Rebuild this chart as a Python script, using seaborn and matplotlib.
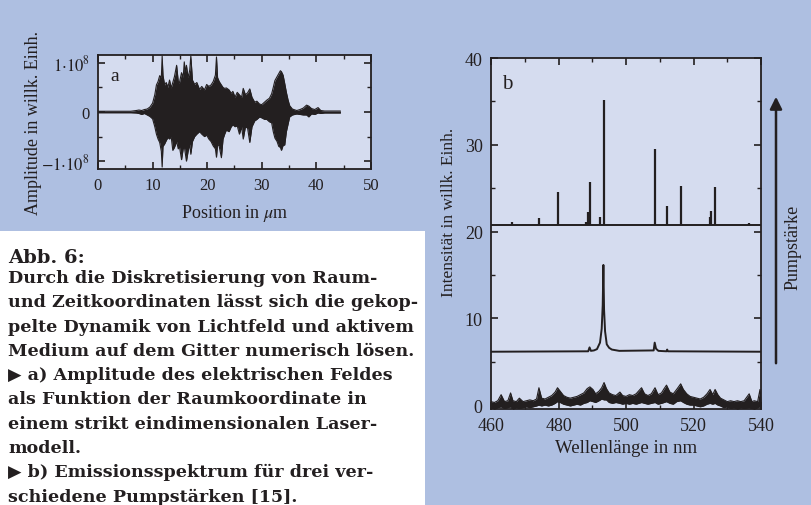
import numpy as np
import pandas as pd
import matplotlib
matplotlib.use("Agg")
import matplotlib.pyplot as plt
import seaborn as sns
from matplotlib.patches import Rectangle, FancyArrowPatch
from matplotlib.ticker import MultipleLocator

# =============================================================================
# Farben / Layout
# =============================================================================
BG = "#aebfe1"
FACE = "#d5dcef"
INK = "#231f20"
W, H = 812, 506

# =============================================================================
# Daten Teil a: Einhüllende der Feldamplitude (Einheiten 1e8)
# =============================================================================
POS_UM = [0.0, 6.0, 7.0, 7.5, 8.0, 8.5, 9.0, 9.5, 10.0, 10.4, 10.7, 11.0,
          11.3, 11.6, 11.75, 11.9, 12.2, 12.5, 12.8, 13.1, 13.4, 13.7, 14.0,
          14.4, 14.7, 14.9, 15.3, 15.6, 15.8, 16.0, 16.2, 16.5, 16.8, 17.0,
          17.3, 17.7, 18.1, 18.6, 19.0, 19.5, 19.9, 20.3, 20.7, 21.1, 21.5,
          21.7, 21.9, 22.2, 22.6, 22.9, 23.2, 23.5, 24.0, 24.4, 24.7, 25.1,
          25.5, 25.9, 26.3, 26.6, 27.0, 27.4, 27.8, 28.2, 28.7, 29.1, 29.6,
          30.0, 30.5, 30.9, 31.4, 31.8, 32.1, 32.4, 32.8, 33.1, 33.4, 33.6,
          33.9, 34.2, 34.5, 34.8, 35.1, 35.6, 36.4, 37.0, 37.6, 38.2, 38.6,
          39.1, 39.7, 40.3, 40.8, 41.5, 44.4]
AMP_TOP = [0.015, 0.015, 0.03, 0.04, 0.03, 0.05, 0.06, 0.10, 0.18, 0.35, 0.55,
           0.62, 0.74, 0.70, 1.14, 0.75, 0.55, 0.60, 0.50, 0.65, 0.49, 0.60,
           0.72, 0.95, 0.62, 0.59, 0.80, 0.70, 1.02, 0.80, 0.95, 0.70, 0.85,
           1.14, 0.65, 0.56, 0.60, 0.46, 0.52, 0.45, 0.56, 0.52, 0.55, 0.62,
           0.75, 1.12, 0.70, 0.62, 0.55, 0.50, 0.48, 0.49, 0.45, 0.38, 0.42,
           0.30, 0.40, 0.35, 0.30, 0.48, 0.35, 0.39, 0.47, 0.30, 0.20, 0.22,
           0.16, 0.15, 0.20, 0.24, 0.28, 0.37, 0.50, 0.64, 0.72, 0.78, 0.84,
           0.82, 0.75, 0.58, 0.40, 0.25, 0.13, 0.06, 0.03, 0.05, 0.08, 0.14,
           0.12, 0.07, 0.05, 0.09, 0.03, 0.02, 0.02]
AMP_BOT = [-0.015, -0.015, -0.02, -0.03, -0.05, -0.03, -0.06, -0.09, -0.14,
           -0.30, -0.45, -0.55, -0.62, -0.80, -1.12, -0.70, -0.65, -0.58,
           -0.52, -0.55, -0.50, -0.78, -0.72, -0.60, -0.75, -0.69, -0.97,
           -0.75, -0.70, -0.85, -1.00, -0.80, -0.65, -0.86, -0.60, -0.50,
           -0.45, -0.40, -0.45, -0.50, -0.47, -0.55, -0.60, -0.69, -0.75,
           -0.92, -0.65, -0.70, -0.93, -0.55, -0.45, -0.37, -0.40, -0.30,
           -0.26, -0.30, -0.28, -0.45, -0.30, -0.55, -0.30, -0.33, -0.62,
           -0.30, -0.18, -0.15, -0.10, -0.12, -0.15, -0.15, -0.20, -0.22,
           -0.40, -0.53, -0.60, -0.70, -0.72, -0.78, -0.68, -0.67, -0.40,
           -0.25, -0.10, -0.06, -0.04, -0.05, -0.06, -0.06, -0.10, -0.04,
           -0.05, -0.02, -0.03, -0.02, -0.02]

# =============================================================================
# Daten Teil b: Emissionsspektren
# =============================================================================
# hohe Pumpstärke: Basislinie + scharfe Linien
TOP_BASE = 20.8
TOP_PEAK_NM = [466.1, 474.3, 479.9, 488.0, 488.7, 489.4, 492.3, 493.4,
               508.7, 512.2, 516.4, 524.8, 525.1, 526.5, 536.4]
TOP_PEAK_I = [21.1, 21.6, 24.5, 21.1, 22.3, 25.7, 21.65, 35.2,
              29.5, 22.9, 25.3, 21.65, 22.4, 25.1, 21.0]

# mittlere Pumpstärke
MID_NM = [460.0, 488.8, 489.2, 489.6, 490.5, 491.4, 492.3, 492.8, 493.1,
          493.3, 493.5, 493.8, 494.3, 495.0, 495.8, 498.0, 508.2, 508.5,
          508.9, 509.6, 512.0, 512.2, 512.4, 540.0]
MID_I = [6.15, 6.2, 6.65, 6.25, 6.3, 6.45, 7.2, 8.8, 11.5,
         16.15, 11.0, 8.5, 7.0, 6.6, 6.4, 6.25, 6.3, 7.2,
         6.5, 6.25, 6.2, 6.4, 6.2, 6.15]

# niedrige Pumpstärke: verrauschtes Band (obere / untere Kante)
LOW_NM = [460, 461, 462, 463, 464, 465, 465.8, 466.5, 467.5, 468.4, 469.5,
          470.5, 471.5, 472.5, 473.5, 474.2, 475, 476, 477, 478, 479, 479.7,
          480.5, 481.5, 482.5, 483.5, 484.5, 485.5, 486.5, 487.5, 488.5,
          489.3, 490.2, 491, 492, 492.8, 493.5, 494.2, 495, 496, 497, 498.2,
          499, 500, 501, 502, 503, 504.6, 505.5, 506.5, 507.5, 508.6, 509.5,
          510.5, 511.3, 512, 513, 514, 515, 516.2, 517, 518, 519, 520, 521,
          522, 523, 524, 524.9, 525.7, 526.4, 527.2, 528, 529, 530, 531, 532,
          533, 534, 535, 536.5, 537.3, 538, 539, 539.7, 540]
LOW_TOP = [0.4, 0.3, 0.5, 1.2, 0.4, 0.5, 1.4, 0.5, 0.4, 0.8, 0.4,
           0.5, 0.6, 0.5, 0.7, 2.0, 0.8, 0.7, 0.9, 1.1, 1.5, 2.0,
           1.6, 1.1, 0.9, 0.8, 0.9, 1.0, 1.2, 1.4, 1.9,
           2.1, 1.8, 1.3, 1.6, 2.0, 2.6, 1.9, 1.4, 1.2, 1.1, 1.5,
           1.1, 1.0, 1.2, 1.1, 1.3, 2.0, 1.3, 1.1, 1.3, 2.0, 1.2,
           1.4, 1.9, 2.3, 1.5, 1.3, 1.8, 2.45, 1.8, 1.3, 1.0, 0.9, 0.8,
           0.7, 0.9, 1.3, 1.8, 1.2, 1.8, 1.2, 0.8, 0.6, 0.4, 0.5, 0.4,
           0.5, 0.4, 0.5, 1.3, 0.4, 0.5, 0.4, 1.8, 0.5]
LOW_BOT = [-0.3, -0.5, -0.3, -0.2, -0.4, -0.3, -0.2, -0.5, -0.3, -0.4, -0.3,
           -0.2, -0.3, -0.2, -0.1, 0.0, -0.1, 0.0, -0.1, 0.0, 0.2, 0.4,
           0.3, 0.1, 0.0, -0.1, 0.0, 0.1, 0.0, 0.2, 0.3,
           0.5, 0.4, 0.3, 0.5, 0.7, 0.6, 0.6, 0.3, 0.2, 0.3, 0.2,
           0.1, 0.2, 0.1, 0.2, 0.1, 0.3, 0.2, 0.1, 0.2, 0.3, 0.1,
           0.2, 0.3, 0.4, 0.2, 0.1, 0.4, 0.5, 0.3, 0.1, 0.0, 0.0, -0.1,
           -0.2, -0.1, 0.1, 0.2, 0.1, 0.2, 0.0, -0.1, -0.3, -0.2, -0.4, -0.3,
           -0.5, -0.3, -0.4, -0.3, -0.4, -0.5, -0.3, -0.2, -0.3]

CAPTION_TITLE = "Abb. 6:"
CAPTION_LINES = [
    "Durch die Diskretisierung von Raum-",
    "und Zeitkoordinaten lässt sich die gekop-",
    "pelte Dynamik von Lichtfeld und aktivem",
    "Medium auf dem Gitter numerisch lösen.",
    "▶ a) Amplitude des elektrischen Feldes",
    "als Funktion der Raumkoordinate in",
    "einem strikt eindimensionalen Laser-",
    "modell.",
    "▶ b) Emissionsspektrum für drei ver-",
    "schiedene Pumpstärken [15].",
]

# =============================================================================
# Stil
# =============================================================================
sns.set_theme(style="ticks")
plt.rcParams["font.family"] = ["Liberation Serif", "DejaVu Serif"]
plt.rcParams["mathtext.fontset"] = "stix"
plt.rcParams["text.color"] = INK
plt.rcParams["axes.labelcolor"] = INK


def px_box(x0, y0, x1, y1):
    """Pixelrechteck (oben links / unten rechts) -> Figure-Koordinaten."""
    return [x0 / W, 1 - y1 / H, (x1 - x0) / W, (y1 - y0) / H]


def style_axes(ax, fs, pad):
    ax.set_facecolor(FACE)
    for sp in ax.spines.values():
        sp.set_color(INK)
        sp.set_linewidth(1.3)
        sp.set_zorder(5)
    ax.tick_params(which="both", direction="in", top=True, right=True,
                   bottom=True, left=True, color=INK, labelcolor=INK,
                   labelsize=fs, pad=pad, zorder=6)
    ax.tick_params(which="major", length=5, width=1.2)
    ax.tick_params(which="minor", length=3, width=1.0)


fig = plt.figure(figsize=(W / 100, H / 100), dpi=100)
fig.patch.set_facecolor(BG)
fig.patches.append(Rectangle((0, 0), 425 / W, 1 - 232 / H,
                             transform=fig.transFigure, facecolor="white",
                             edgecolor="none", zorder=0))

# --- Teil a ---
ax_a = fig.add_axes(px_box(98, 56, 371, 170))
ax_a.fill_between(POS_UM, AMP_TOP, AMP_BOT, color=INK, lw=0)
df_a = pd.DataFrame({"pos": POS_UM + POS_UM, "amp": AMP_TOP + AMP_BOT,
                     "edge": ["top"] * len(POS_UM) + ["bot"] * len(POS_UM)})
sns.lineplot(data=df_a, x="pos", y="amp", units="edge", estimator=None,
             color=INK, lw=0.8, ax=ax_a)
ax_a.set_xlim(0, 50)
ax_a.set_ylim(-1.16, 1.16)
ax_a.xaxis.set_major_locator(MultipleLocator(10))
ax_a.xaxis.set_minor_locator(MultipleLocator(5))
ax_a.set_yticks([-1, 0, 1])
ax_a.set_yticklabels([r"$-1{\cdot}10^8$", "0", r"$1{\cdot}10^8$"])
ax_a.yaxis.set_minor_locator(MultipleLocator(0.5))
ax_a.set_xlabel(r"Position in $\mu$m", fontsize=13)
ax_a.set_ylabel("Amplitude in willk. Einh.", fontsize=13)
ax_a.xaxis.set_label_coords(0.5, -0.29)
ax_a.yaxis.set_label_coords(-0.205, 0.41)
ax_a.text(0.045, 0.82, "a", transform=ax_a.transAxes, fontsize=14,
          va="center", ha="left", color=INK)
style_axes(ax_a, 12, 6)

# --- Teil b ---
ax_b = fig.add_axes(px_box(491, 59, 761, 410))
ax_b.fill_between(LOW_NM, LOW_TOP, LOW_BOT, color=INK, lw=0)
df_low = pd.DataFrame({"nm": LOW_NM + LOW_NM, "i": LOW_TOP + LOW_BOT,
                       "edge": ["top"] * len(LOW_NM) + ["bot"] * len(LOW_NM)})
sns.lineplot(data=df_low, x="nm", y="i", units="edge", estimator=None,
             color=INK, lw=0.8, ax=ax_b)
sns.lineplot(x=MID_NM, y=MID_I, color=INK, lw=1.4, ax=ax_b)
sns.lineplot(x=[460, 540], y=[TOP_BASE, TOP_BASE], color=INK, lw=1.4, ax=ax_b)
ax_b.vlines(TOP_PEAK_NM, TOP_BASE, TOP_PEAK_I, color=INK, lw=1.6)
ax_b.set_xlim(460, 540)
ax_b.set_ylim(-0.45, 40)
ax_b.xaxis.set_major_locator(MultipleLocator(20))
ax_b.xaxis.set_minor_locator(MultipleLocator(10))
ax_b.yaxis.set_major_locator(MultipleLocator(10))
ax_b.yaxis.set_minor_locator(MultipleLocator(5))
ax_b.set_xlabel("Wellenlänge in nm", fontsize=13.5)
ax_b.set_ylabel("Intensität in willk. Einh.", fontsize=12.5)
ax_b.xaxis.set_label_coords(0.5, -0.085)
ax_b.yaxis.set_label_coords(-0.126, 0.564)
ax_b.text(0.04, 0.928, "b", transform=ax_b.transAxes, fontsize=15,
          va="center", ha="left", color=INK)
style_axes(ax_b, 13, 6)

# --- Pfeil Pumpstärke ---
fig.patches.append(FancyArrowPatch(
    (776 / W, 1 - 367 / H), (776 / W, 1 - 95 / H), transform=fig.transFigure,
    arrowstyle="-|>", mutation_scale=18, lw=1.8, color=INK))
fig.text(793 / W, 1 - 247 / H, "Pumpstärke", rotation=90, fontsize=13,
         ha="center", va="center", color=INK)

# --- Bildunterschrift ---
CAP_FONT = ["DejaVu Serif"]
fig.text(8 / W, 1 - 263 / H, CAPTION_TITLE, fontsize=14, fontweight="bold",
         family=CAP_FONT, ha="left", va="baseline", color=INK)
for i, line in enumerate(CAPTION_LINES):
    fig.text(8 / W, 1 - (283 + i * 24.3) / H, line, fontsize=12.6,
             fontweight="bold", family=CAP_FONT, ha="left", va="baseline",
             color=INK)

fig.savefig("out.png", dpi=100, facecolor=BG)
